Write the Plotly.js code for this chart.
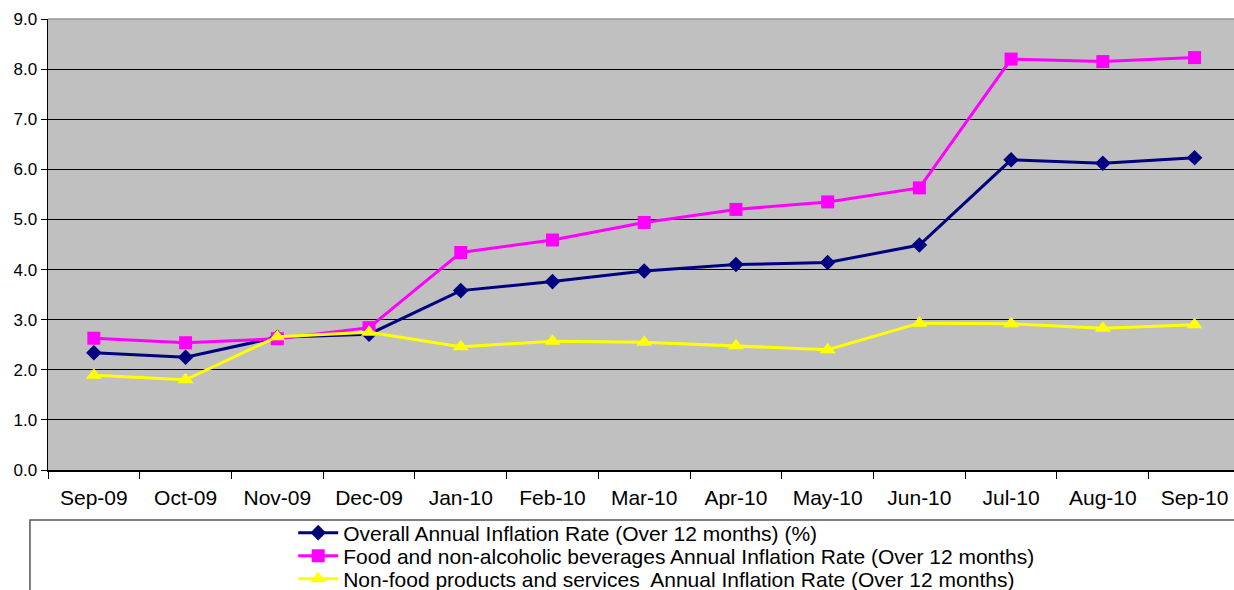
<!DOCTYPE html>
<html><head><meta charset="utf-8">
<script src="https://cdn.plot.ly/plotly-3.0.1.min.js"></script>
<style>html,body{margin:0;padding:0;background:#fff}#c{width:1234px;height:590px}</style>
</head><body><div id="c"></div>
<script>
const months = ["Sep-09","Oct-09","Nov-09","Dec-09","Jan-10","Feb-10","Mar-10","Apr-10","May-10","Jun-10","Jul-10","Aug-10","Sep-10"];
const overall = [2.34,2.25,2.65,2.71,3.58,3.76,3.97,4.10,4.14,4.49,6.19,6.12,6.23];
const food = [2.63,2.54,2.62,2.84,4.34,4.59,4.94,5.20,5.35,5.63,8.20,8.15,8.23];
const nonfood = [1.89,1.80,2.66,2.75,2.46,2.57,2.55,2.48,2.40,2.93,2.92,2.83,2.90];
const names = [
  "Overall Annual Inflation Rate (Over 12 months) (%)",
  "Food and non-alcoholic beverages Annual Inflation Rate (Over 12 months)",
  "Non-food products and services  Annual Inflation Rate (Over 12 months)"
];
const traces = [
  {x: months, y: overall, name: names[0], type: "scatter", mode: "lines+markers", legend: "legend",
   line: {color: "#000080", width: 3}, marker: {symbol: "diamond", size: 12, color: "#000080"}},
  {x: months, y: food, name: names[1], type: "scatter", mode: "lines+markers", legend: "legend2",
   line: {color: "#FF00FF", width: 3}, marker: {symbol: "square", size: 13, color: "#FF00FF"}},
  {x: months, y: nonfood, name: names[2], type: "scatter", mode: "lines+markers", legend: "legend3",
   line: {color: "#FFFF00", width: 3}, marker: {symbol: "triangle-up", size: 14, color: "#FFFF00"}}
];
function leg(yc) {
  return {xref: "container", yref: "container", x: 0.2376, y: yc, xanchor: "left", yanchor: "middle",
    bgcolor: "rgba(0,0,0,0)", borderwidth: 0, font: {size: 21, color: "#000"}, itemwidth: 40};
}
const layout = {
  width: 1234, height: 590,
  margin: {l: 48, r: 0, t: 19, b: 120, pad: 0, autoexpand: false},
  paper_bgcolor: "#ffffff", plot_bgcolor: "#C0C0C0",
  font: {family: "Liberation Sans, Arial, sans-serif", color: "#000"},
  showlegend: true,
  legend: leg(1 - 533/590),
  legend2: leg(1 - 556/590),
  legend3: leg(1 - 579/590),
  xaxis: {type: "category", range: [-0.5, 12.43], tickson: "boundaries", ticks: "outside", ticklen: 7,
    tickcolor: "#000", showgrid: false, showline: true, linecolor: "#000", linewidth: 1.5,
    ticklabelstandoff: 8,
    tickfont: {size: 21}, zeroline: false, fixedrange: true},
  yaxis: {range: [0, 9], dtick: 1, tickformat: ".1f", ticks: "outside", ticklen: 6, tickcolor: "#000",
    showgrid: true, gridcolor: "#000", gridwidth: 1, showline: true, linecolor: "#000", linewidth: 1.5,
    tickfont: {size: 17}, zeroline: false, fixedrange: true},
  shapes: [
    {type: "rect", xref: "paper", yref: "paper", x0: -0.0152, x1: 1.05, y0: -0.5, y1: -0.111,
     line: {color: "#555", width: 1.5}, fillcolor: "rgba(0,0,0,0)"},
    {type: "line", xref: "paper", yref: "paper", x0: 0, x1: 1, y0: 1, y1: 1, line: {color: "#999", width: 1.5}}
  ]
};
Plotly.newPlot("c", traces, layout, {displayModeBar: false, staticPlot: true});
</script></body></html>
